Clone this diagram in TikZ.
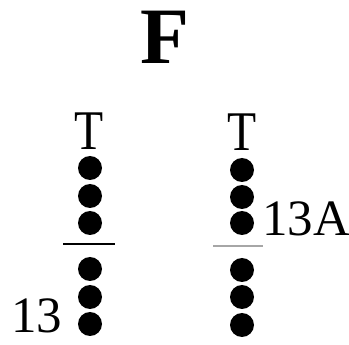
\documentclass[tikz,border=0pt]{standalone}
\usepackage{fontspec}
\setmainfont{Liberation Serif}
\usepackage{tikz}

\begin{document}
\begin{tikzpicture}[x=1pt, y=-1pt]
\useasboundingbox (0,0) rectangle (349,345);
% title
\node[font=\fontsize{80}{80}\selectfont\bfseries] (title) at (165,37) {F};
% left column
\node[font=\fontsize{56}{56}\selectfont, xscale=0.85] (tl) at (89,131) {T};
\node[circle,fill,inner sep=0pt,minimum size=24pt] (l1) at (90,168) {};
\node[circle,fill,inner sep=0pt,minimum size=24pt] (l2) at (90,196) {};
\node[circle,fill,inner sep=0pt,minimum size=24pt] (l3) at (90,223) {};
\coordinate (lbarw) at (63,244);
\coordinate (lbare) at (115,244);
\draw[line width=2.5pt] (lbarw) -- (lbare);
\node[circle,fill,inner sep=0pt,minimum size=24pt] (l4) at (90,269) {};
\node[circle,fill,inner sep=0pt,minimum size=24pt] (l5) at (90,297) {};
\node[circle,fill,inner sep=0pt,minimum size=24pt] (l6) at (90,324) {};
\node[font=\fontsize{51}{51}\selectfont, inner sep=0pt, anchor=south] (lab13) at (37,333) {13};
% right column
\node[font=\fontsize{56}{56}\selectfont, xscale=0.85] (tr) at (242,132) {T};
\node[circle,fill,inner sep=0pt,minimum size=24pt] (r1) at (242,170) {};
\node[circle,fill,inner sep=0pt,minimum size=24pt] (r2) at (242,197) {};
\node[circle,fill,inner sep=0pt,minimum size=24pt] (r3) at (242,223) {};
\coordinate (rbarw) at (213,246);
\coordinate (rbare) at (263,246);
\draw[line width=2.5pt, gray!70] (rbarw) -- (rbare);
\node[circle,fill,inner sep=0pt,minimum size=24pt] (r4) at (242,270) {};
\node[circle,fill,inner sep=0pt,minimum size=24pt] (r5) at (242,297) {};
\node[circle,fill,inner sep=0pt,minimum size=24pt] (r6) at (242,325) {};
\node[font=\fontsize{51}{51}\selectfont, inner sep=0pt, anchor=south] (lab13A) at (306,236) {13A};
\end{tikzpicture}
\end{document}
